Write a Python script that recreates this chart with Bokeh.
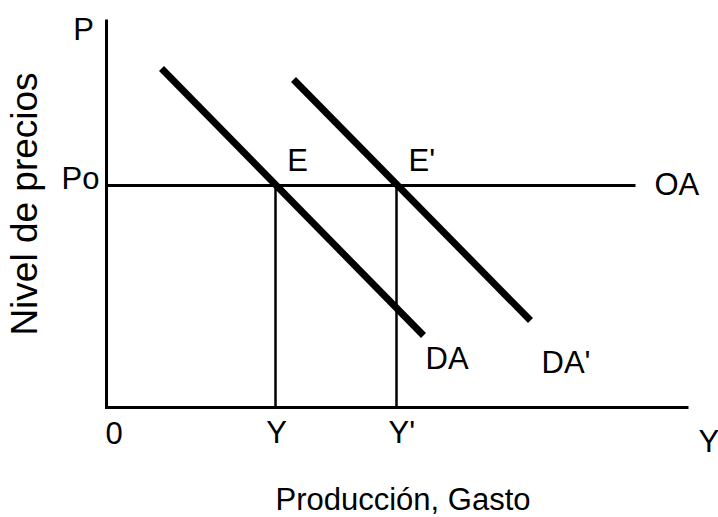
import math
from bokeh.plotting import figure
from bokeh.models import Range1d
from bokeh.core.properties import value
from bokeh.embed import file_html
from bokeh.resources import INLINE

# ---- data (diagram units: origin at the axes' corner) ----
axis_x = [0, 0, 582]
axis_y = [388, 0, 0]
price_level = 222            # Po
output_levels = [169, 290]   # Y, Y'
oa_end = 529
da_x = [55, 317]
da_y = [339, 72]
da2_x = [187, 424]
da2_y = [328, 87]

# labels
center_labels = ["P", "Po", "E", "0", "Y"]
center_x = [-23, -26, 191, 7.5, 170]
center_y = [378, 229, 247, -25, -25]
left_labels = ["E'", "OA", "DA", "DA'", "Y'", "Y"]
left_x = [302, 548, 319, 435, 282, 592]
left_y = [247, 223, 49, 45, -25, -34]
x_title = "Producción, Gasto"
y_title = "Nivel de precios"

FONT = value("Liberation Sans")

p = figure(width=718, height=517, output_backend="svg", toolbar_location=None,
           x_range=Range1d(-106, 612), y_range=Range1d(-110, 407),
           min_border=0)
p.axis.visible = False
p.grid.visible = False
p.outline_line_color = None
p.background_fill_color = "white"
p.border_fill_color = "white"

# axes
p.line(axis_x, axis_y, line_color="black", line_width=3, line_join="miter")
# OA (horizontal supply line)
p.line([0, oa_end], [price_level, price_level], line_color="black", line_width=3)
# vertical drop lines
for xv in output_levels:
    p.line([xv, xv], [0, price_level], line_color="black", line_width=2.5)
# demand curves
p.line(da_x, da_y, line_color="black", line_width=7)
p.line(da2_x, da2_y, line_color="black", line_width=7)

p.text(x=center_x, y=center_y, text=center_labels, text_font=FONT,
       text_font_size="31px", text_align="center", text_baseline="alphabetic",
       text_color="black")
p.text(x=left_x, y=left_y, text=left_labels, text_font=FONT,
       text_font_size="31px", text_align="left", text_baseline="alphabetic",
       text_color="black")
p.text(x=[296.5], y=[-92], text=[x_title], text_font=FONT,
       text_font_size="31px", text_align="center", text_baseline="alphabetic",
       text_color="black")
p.text(x=[-82], y=[203.5], text=[y_title], text_font=FONT, angle=math.pi / 2,
       text_font_size="37px", text_align="center", text_baseline="alphabetic",
       text_color="black")

open("out.html", "w").write(file_html(p, INLINE))
